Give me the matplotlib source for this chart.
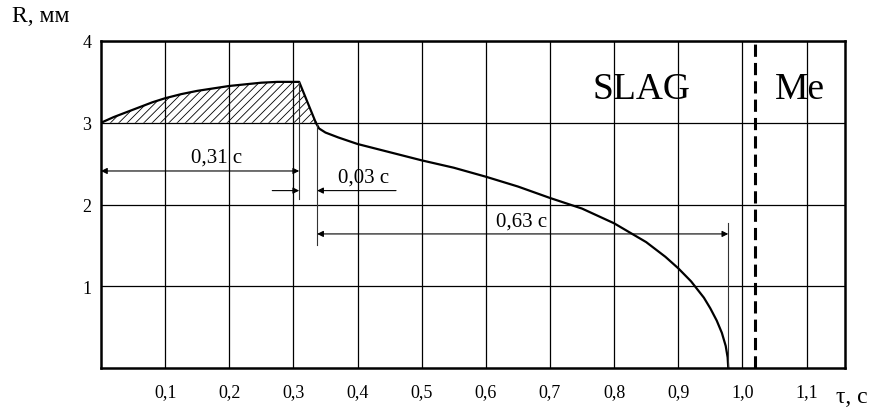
import numpy as np
import matplotlib
matplotlib.use("Agg")
import matplotlib.pyplot as plt

plt.rcParams['font.family'] = ['Liberation Serif', 'DejaVu Serif']
plt.rcParams['hatch.linewidth'] = 0.6

# rising (hatched) part of R(t)
t_rise = [0.0, 0.02, 0.04, 0.06, 0.08, 0.1, 0.125, 0.15, 0.175, 0.2,
          0.225, 0.25, 0.275, 0.3, 0.309, 0.335]
r_rise = [3.0, 3.07, 3.13, 3.19, 3.25, 3.3, 3.35, 3.39, 3.42, 3.45,
          3.47, 3.49, 3.5, 3.5, 3.5, 3.0]

# falling part
t_fall = [0.335, 0.34, 0.35, 0.37, 0.4, 0.45, 0.5, 0.55, 0.6, 0.65, 0.7,
          0.75, 0.8, 0.85, 0.88, 0.9, 0.92, 0.94, 0.95, 0.96, 0.968,
          0.974, 0.977, 0.978]
r_fall = [3.0, 2.93, 2.88, 2.82, 2.74, 2.64, 2.54, 2.45, 2.34, 2.22, 2.08,
          1.95, 1.77, 1.54, 1.36, 1.22, 1.06, 0.86, 0.73, 0.58, 0.43,
          0.27, 0.13, 0.0]

xticks = [0.1, 0.2, 0.3, 0.4, 0.5, 0.6, 0.7, 0.8, 0.9, 1.0, 1.1]
xlabels = ["0,1", "0,2", "0,3", "0,4", "0,5", "0,6", "0,7", "0,8", "0,9", "1,0", "1,1"]
yticks = [1, 2, 3, 4]

t_interface = 1.02

fig = plt.figure(figsize=(8.78, 4.14), dpi=100)
ax = fig.add_axes([101/878, 45/414, 744/878, 327/414])
ax.set_xlim(0, 1.16)
ax.set_ylim(0, 4)

ax.set_xticks(xticks)
ax.set_xticklabels(xlabels, fontsize=13)
ax.set_yticks(yticks)
ax.set_yticklabels([str(v) for v in yticks], fontsize=13)
ax.tick_params(axis='x', length=0, pad=11)
ax.tick_params(axis='y', length=0, pad=7)
ax.grid(True, color='black', lw=0.9)
ax.set_axisbelow(True)
for s in ax.spines.values():
    s.set_linewidth(1.8)

# hatched region
ax.fill_between(t_rise, 3.0, r_rise, facecolor='none', edgecolor='black',
                hatch='////', linewidth=0)
ax.plot(t_rise, r_rise, color='black', lw=1.6)
ax.plot(t_fall, r_fall, color='black', lw=1.6)

# metal / slag boundary
ax.axvline(t_interface, color='black', lw=2.2, linestyle=(0, (4, 2)))

# extension lines
ax.plot([0.309, 0.309], [3.5, 2.07], color='#333333', lw=0.8)
ax.plot([0.337, 0.337], [2.98, 1.5], color='#333333', lw=0.8)
ax.plot([0.978, 0.978], [0.0, 1.77], color='#333333', lw=0.8)

arr = dict(arrowstyle='<|-|>', color='black', lw=0.8,
           mutation_scale=9, shrinkA=0, shrinkB=0)
one = dict(arrowstyle='-|>', color='black', lw=0.8,
           mutation_scale=9, shrinkA=0, shrinkB=0)

ax.annotate('', xy=(0.309, 2.41), xytext=(0.0, 2.41), arrowprops=arr)
ax.text(0.18, 2.58, "0,31 с", fontsize=15, ha='center', va='center')

ax.annotate('', xy=(0.309, 2.17), xytext=(0.267, 2.17), arrowprops=one)
ax.annotate('', xy=(0.337, 2.17), xytext=(0.46, 2.17), arrowprops=one)
ax.text(0.41, 2.33, "0,03 с", fontsize=15, ha='center', va='center')

ax.annotate('', xy=(0.978, 1.64), xytext=(0.337, 1.64), arrowprops=arr)
ax.text(0.655, 1.80, "0,63 с", fontsize=15, ha='center', va='center')

ax.text(0.843, 3.41, "SLAG", fontsize=27, ha='center', va='center')
ax.text(1.089, 3.41, "Me", fontsize=27, ha='center', va='center')

fig.text(12/878, 1 - 17/414, "R, мм", fontsize=17, ha='left', va='center')
fig.text(836/878, 1 - 398/414, "τ, с", fontsize=17, ha='left', va='center')

fig.savefig("out.png", dpi=100)
